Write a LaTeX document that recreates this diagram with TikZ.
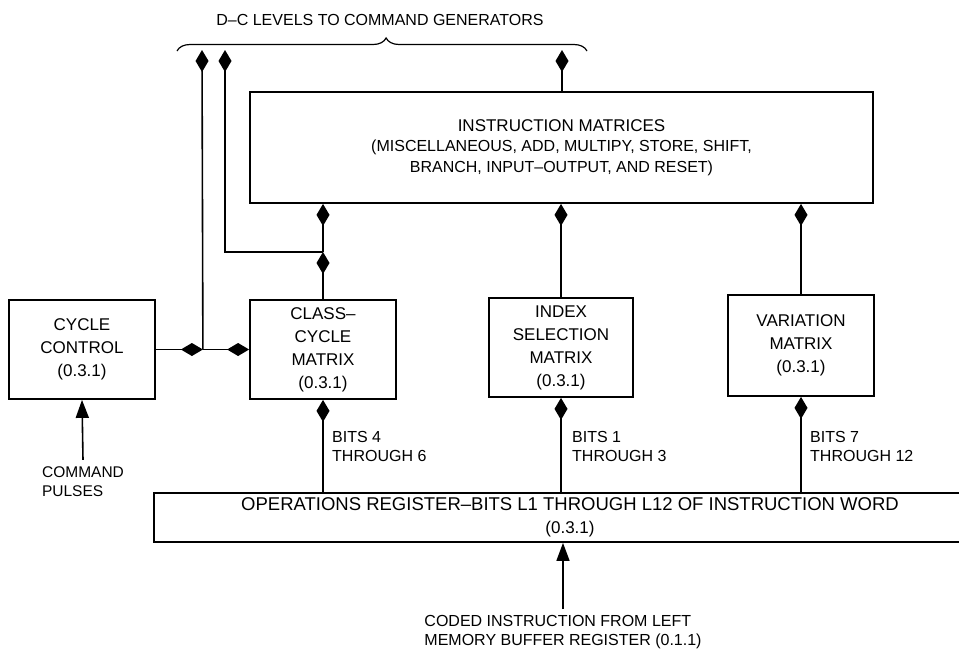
\documentclass[tikz,border=0pt]{standalone}
\usepackage{fontspec}
\setmainfont{Liberation Sans}
\usetikzlibrary{arrows.meta,positioning,decorations.pathreplacing}
\tikzset{
  unit/.style={draw=black,line width=1.8pt,align=center,inner sep=0pt,
               font=\fontsize{17}{23}\selectfont},
  dcout/.style={-{Diamond[length=22pt,width=13pt]},draw=black,line width=1.6pt},
  sig/.style={-{Triangle[length=18pt,width=13pt]},draw=black,line width=1.6pt}
}

\begin{document}
\begin{tikzpicture}[x=1pt,y=-1pt,
  matrixbox/.style={unit,minimum width=146pt,minimum height=99pt},
  note/.style={align=left,inner sep=0pt,font=\fontsize{16}{19}\selectfont}
]
  \useasboundingbox (0,0) rectangle (959,651);
  \node[unit,minimum width=623pt,minimum height=111pt,
        font=\fontsize{16}{20.5}\selectfont] (instr) at (561.5,147.5)
    {{\fontsize{17}{20.5}\selectfont INSTRUCTION MATRICES}\\
     (MISCELLANEOUS, ADD, MULTIPY, STORE, SHIFT,\\
     BRANCH, INPUT--OUTPUT, AND RESET)};
  \node[matrixbox] (cycle) at (82,349.5) {CYCLE\\CONTROL\\(0.3.1)};
  \node[matrixbox] (classcyc) at (323,349.5) {CLASS--\\CYCLE\\MATRIX\\(0.3.1)};
  \node[matrixbox,minimum width=144pt] (index) at (561,347.5)
    {INDEX\\SELECTION\\MATRIX\\(0.3.1)};
  \node[matrixbox,minimum height=101pt] (variation) at (801,345.5)
    {VARIATION\\MATRIX\\(0.3.1)};
  \node[unit,minimum width=832pt,minimum height=49pt] (opreg) at (570,517.5)
    {{\fontsize{18.5}{23}\selectfont OPERATIONS REGISTER--BITS L1 THROUGH L12 OF INSTRUCTION WORD}\\
     (0.3.1)};

  \node[note] (dclevels) at (380,20) {D--C LEVELS TO COMMAND GENERATORS};
  \draw[line width=1.2pt,decorate,decoration={brace,amplitude=13pt,aspect=0.51}]
    (177,51) -- (587,51);
  \coordinate (top1) at (202,50);
  \coordinate (top2) at (225,50);
  \coordinate (top3) at (562,50);
  \coordinate (jn) at ([xshift=47pt]cycle.east);
  \coordinate (tap) at (323,252);

  \draw[dcout] (cycle.east) -- (jn);
  \draw[dcout] (jn) -- (classcyc.west);
  \draw[dcout] (jn) -- (top1);
  \draw[dcout] (tap) -| (top2);
  \draw[dcout] (classcyc.north) -- (tap);
  \draw[dcout] (tap) -- (tap |- instr.south);
  \draw[dcout] (instr.north -| top3) -- (top3);
  \foreach \m in {index,variation}
    \draw[dcout] (\m.north) -- (\m.north |- instr.south);
  \foreach \m in {classcyc,index,variation}
    \draw[dcout] (\m.south |- opreg.north) -- (\m.south);

  \node[note,anchor=west] (bits46) at (332,446) {BITS 4\\THROUGH 6};
  \node[note,anchor=west] (bits13) at (572,446) {BITS 1\\THROUGH 3};
  \node[note,anchor=west] (bits712) at (810,446) {BITS 7\\THROUGH 12};

  \node[note,font=\fontsize{15.5}{19}\selectfont] (cmdpulses) at (83,482)
    {COMMAND\\PULSES};
  \draw[sig] ([yshift=7pt]cmdpulses.north) -- (cycle.south);
  \node[note] (coded) at (563,632)
    {CODED INSTRUCTION FROM LEFT\\MEMORY BUFFER REGISTER (0.1.1)};
  \draw[sig] ([yshift=6pt]coded.north) -- (coded.north |- opreg.south);
\end{tikzpicture}
\end{document}
